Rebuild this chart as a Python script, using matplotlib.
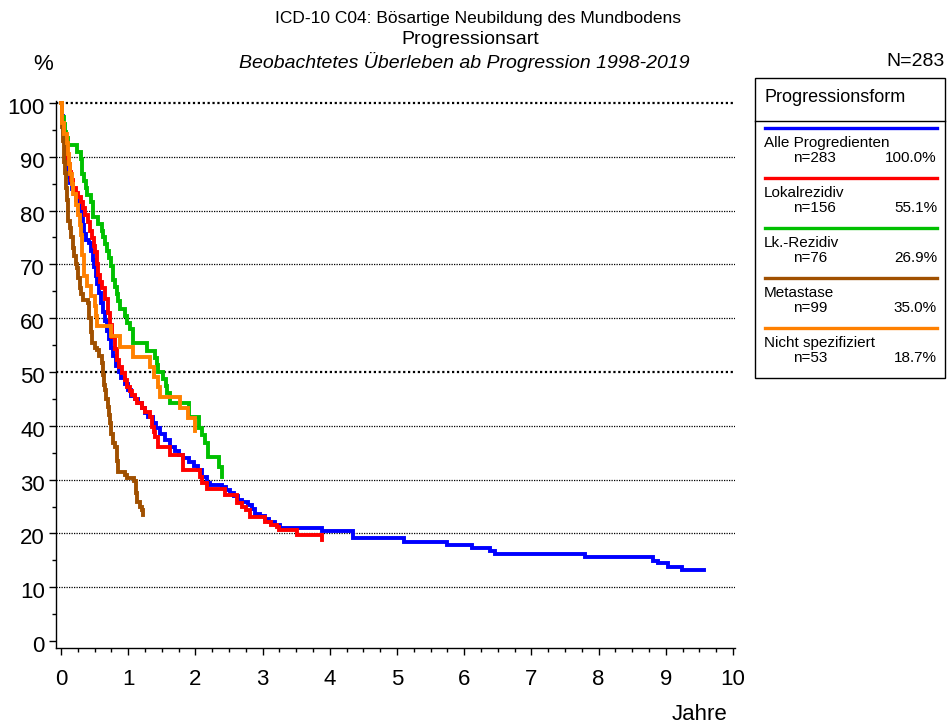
import numpy as np
import matplotlib
matplotlib.use('Agg')
import matplotlib.pyplot as plt
import matplotlib.transforms as mtransforms
from matplotlib.lines import Line2D
from matplotlib.patches import Rectangle

plt.rcParams['font.family'] = ['Liberation Sans', 'DejaVu Sans']

# Kaplan-Meier Stufen: Zeit in Jahren, Überleben in %
alle_t = [0, 0.01, 0.02, 0.03, 0.04, 0.05, 0.06, 0.08, 0.09, 0.10, 0.12, 0.14, 0.17, 0.20,
          0.23, 0.25, 0.28, 0.31, 0.33, 0.35, 0.37, 0.42, 0.45, 0.47, 0.49, 0.52, 0.54, 0.57,
          0.60, 0.63, 0.66, 0.69, 0.72, 0.75, 0.78, 0.82, 0.86, 0.90, 0.95, 1.00, 1.04, 1.10,
          1.15, 1.20, 1.25, 1.30, 1.37, 1.42, 1.48, 1.55, 1.62, 1.70, 1.76, 1.82, 1.90, 1.98,
          2.04, 2.10, 2.17, 2.22, 2.40, 2.45, 2.52, 2.58, 2.64, 2.70, 2.78, 2.84, 2.89, 2.96,
          3.04, 3.10, 3.18, 3.26, 3.88, 4.35, 5.10, 5.74, 6.12, 6.38, 6.46, 7.80, 8.81, 8.88,
          9.03, 9.24, 9.57]
alle_s = [100, 98.9, 97.5, 96.1, 94.7, 93.6, 92.6, 90.5, 89.0, 87.3, 86.2, 85.2, 84.1, 83.0,
          82.0, 81.3, 80.2, 78.8, 77.4, 75.6, 74.5, 73.9, 72.4, 70.8, 69.5, 67.8, 66.4, 64.7,
          62.9, 61.1, 59.4, 57.6, 56.1, 54.4, 53.0, 51.2, 50.0, 48.8, 47.7, 46.6, 45.6, 44.9,
          44.2, 43.4, 42.4, 41.7, 40.6, 39.6, 38.5, 37.4, 36.1, 35.4, 34.6, 34.0, 33.3, 32.5,
          31.8, 30.4, 29.4, 29.0, 28.6, 28.0, 27.5, 27.0, 26.3, 25.8, 25.3, 24.5, 23.6, 23.2,
          22.6, 22.1, 21.6, 21.0, 20.4, 19.1, 18.4, 17.8, 17.3, 16.7, 16.2, 15.6, 14.9, 14.5,
          13.8, 13.2, 13.2]

lokal_t = [0, 0.01, 0.02, 0.03, 0.05, 0.07, 0.09, 0.11, 0.13, 0.15, 0.18, 0.22, 0.26, 0.30,
           0.33, 0.36, 0.40, 0.43, 0.46, 0.49, 0.51, 0.53, 0.55, 0.58, 0.61, 0.65, 0.70, 0.73,
           0.76, 0.80, 0.83, 0.87, 0.91, 0.95, 0.98, 1.02, 1.06, 1.10, 1.13, 1.20, 1.25, 1.32,
           1.35, 1.38, 1.40, 1.44, 1.62, 1.82, 2.07, 2.10, 2.17, 2.44, 2.62, 2.70, 2.76, 2.81,
           3.04, 3.13, 3.22, 3.24, 3.51, 3.88]
lokal_s = [100, 98.5, 97.0, 95.4, 93.5, 91.8, 90.3, 88.7, 87.2, 85.7, 84.2, 83.3, 82.5, 81.6,
           80.4, 79.2, 77.9, 76.3, 74.9, 73.5, 72.3, 70.1, 68.0, 66.8, 65.6, 63.5, 61.0, 58.7,
           56.5, 54.3, 52.2, 50.9, 49.8, 48.5, 47.2, 46.4, 45.7, 44.9, 44.2, 43.4, 42.6, 41.6,
           39.8, 38.8, 37.9, 36.1, 34.5, 31.8, 30.5, 29.4, 28.3, 27.1, 25.6, 24.9, 24.3, 23.0,
           22.1, 21.6, 21.2, 20.6, 19.7, 18.8]

lk_t = [0, 0.01, 0.02, 0.04, 0.06, 0.08, 0.10, 0.24, 0.30, 0.32, 0.34, 0.37, 0.39, 0.45,
        0.47, 0.48, 0.55, 0.61, 0.63, 0.65, 0.68, 0.72, 0.75, 0.77, 0.80, 0.83, 0.85, 0.88,
        0.95, 0.98, 1.02, 1.07, 1.28, 1.40, 1.43, 1.45, 1.52, 1.56, 1.58, 1.62, 1.90, 2.05,
        2.10, 2.14, 2.19, 2.35, 2.40]
lk_s = [100, 98.7, 97.4, 96.1, 94.7, 93.4, 92.1, 90.8, 89.5, 86.8, 85.5, 84.2, 82.9, 81.6,
        80.3, 78.9, 77.6, 76.3, 75.0, 73.7, 72.4, 71.1, 69.7, 67.1, 65.8, 64.5, 63.2, 61.8,
        60.5, 59.2, 57.9, 55.3, 53.9, 52.6, 51.3, 50.0, 48.7, 47.4, 46.1, 44.2, 41.6, 39.5,
        38.2, 36.8, 34.2, 32.3, 30.5]

meta_t = [0, 0.01, 0.02, 0.03, 0.04, 0.05, 0.06, 0.07, 0.08, 0.09, 0.10, 0.11, 0.13, 0.15,
          0.18, 0.20, 0.22, 0.24, 0.26, 0.28, 0.30, 0.33, 0.40, 0.42, 0.44, 0.46, 0.50, 0.54,
          0.57, 0.61, 0.62, 0.64, 0.65, 0.67, 0.70, 0.71, 0.73, 0.75, 0.77, 0.80, 0.83, 0.84,
          0.85, 0.95, 0.98, 1.08, 1.12, 1.13, 1.18, 1.20, 1.22]
meta_s = [100, 97.5, 95.5, 93.0, 91.0, 89.0, 87.0, 85.5, 84.2, 82.0, 79.7, 78.0, 76.8, 75.0,
          73.0, 71.5, 70.0, 69.3, 67.5, 65.6, 64.5, 63.4, 62.8, 60.0, 57.5, 55.4, 54.5, 54.1,
          53.0, 51.7, 49.5, 47.5, 46.7, 45.0, 43.5, 42.0, 40.5, 38.5, 36.8, 36.0, 35.5, 33.5,
          31.4, 30.9, 30.3, 29.8, 27.5, 25.8, 25.0, 24.3, 23.4]

nicht_t = [0, 0.01, 0.02, 0.05, 0.09, 0.11, 0.12, 0.13, 0.16, 0.18, 0.22, 0.26, 0.28, 0.30,
           0.31, 0.32, 0.34, 0.35, 0.38, 0.45, 0.50, 0.52, 0.54, 0.75, 0.88, 1.07, 1.33, 1.38,
           1.45, 1.47, 1.77, 1.89, 1.99]
nicht_s = [100, 98.1, 96.2, 94.3, 92.5, 90.6, 88.7, 86.8, 84.9, 83.0, 81.1, 79.2, 77.4, 75.5,
           73.6, 71.7, 69.8, 67.9, 66.0, 64.2, 62.3, 60.4, 58.5, 56.6, 54.7, 52.8, 50.9, 49.1,
           47.2, 45.3, 43.4, 41.5, 39.0]

gruppen = ['Alle Progredienten', 'Lokalrezidiv', 'Lk.-Rezidiv', 'Metastase', 'Nicht spezifiziert']
anzahl = [283, 156, 76, 99, 53]
anteil = ['100.0%', '55.1%', '26.9%', '35.0%', '18.7%']
farben = ['#0000ff', '#ff0000', '#00c000', '#a05000', '#ff8000']
kurven = [(alle_t, alle_s), (lokal_t, lokal_s), (lk_t, lk_s), (meta_t, meta_s), (nicht_t, nicht_s)]

W, H = 948, 728


def fx(px):
    return px / W


def fy(py):
    return 1 - py / H


fig = plt.figure(figsize=(W / 100, H / 100), dpi=100)
ax = fig.add_axes([fx(56), fy(648), fx(735) - fx(56), fy(101) - fy(648)])

ax.set_xlim(-0.074, 10.03)
ax.set_ylim(-1.3, 100.37)

# Gitterlinien
for y in range(10, 101, 10):
    if y in (50, 100):
        ax.axhline(y, color='black', lw=1.6, linestyle=(0, (1, 1.2)), zorder=1)
    else:
        ax.axhline(y, color='black', lw=0.9, linestyle=(0, (1, 1)), zorder=1)

for (t, s), c in zip(kurven, farben):
    ax.plot(t, s, drawstyle='steps-post', color=c, lw=2.8, solid_joinstyle='miter', zorder=3)

ax.spines['top'].set_visible(False)
ax.spines['right'].set_visible(False)
ax.spines['left'].set_linewidth(1.0)
ax.spines['bottom'].set_linewidth(1.0)

ax.set_xticks(range(0, 11))
ax.set_xticks(np.arange(0, 10.01, 0.25), minor=True)
ax.set_yticks(range(0, 101, 10))
ax.set_yticks(range(5, 100, 10), minor=True)
ax.tick_params(axis='both', which='major', labelsize=16, direction='out', length=5, width=1)
ax.tick_params(axis='both', which='minor', direction='out', length=3, width=1)
ax.tick_params(axis='x', pad=10)
ax.tick_params(axis='y', pad=3)

# y-Beschriftung leicht nach unten versetzt
versatz = mtransforms.ScaledTranslation(0, -3 / 100, fig.dpi_scale_trans)
for lbl in ax.get_yticklabels():
    lbl.set_transform(lbl.get_transform() + versatz)

# Titel und Achsenbeschriftungen
fig.text(fx(478), fy(18), 'ICD-10 C04: Bösartige Neubildung des Mundbodens', ha='center', va='center', fontsize=12.5)
fig.text(fx(470), fy(40), 'Progressionsart', ha='center', va='center', fontsize=14)
fig.text(fx(464), fy(62), 'Beobachtetes Überleben ab Progression 1998-2019', ha='center', va='center',
         fontsize=14, style='italic')
fig.text(fx(43), fy(64), '%', ha='center', va='center', fontsize=16)
fig.text(fx(945), fy(61), 'N=283', ha='right', va='center', fontsize=14)
fig.text(fx(700), fy(715), 'Jahre', ha='center', va='center', fontsize=16)

# Legende als Kasten rechts
fig.add_artist(Rectangle((fx(755), fy(378)), fx(945) - fx(755), fy(78) - fy(378),
                         transform=fig.transFigure, fill=False, edgecolor='black', lw=1.0))
fig.add_artist(Line2D([fx(755), fx(945)], [fy(121), fy(121)], transform=fig.transFigure,
                      color='black', lw=1.0))
fig.text(fx(765), fy(98), 'Progressionsform', ha='left', va='center', fontsize=13)

for i, (name, n, p, c) in enumerate(zip(gruppen, anzahl, anteil, farben)):
    y0 = 128 + 50 * i
    fig.add_artist(Line2D([fx(765), fx(937)], [fy(y0), fy(y0)], transform=fig.transFigure,
                          color=c, lw=2.4))
    fig.text(fx(764), fy(y0 + 15), name, ha='left', va='center', fontsize=11)
    fig.text(fx(793), fy(y0 + 30), 'n=%d' % n, ha='left', va='center', fontsize=11)
    fig.text(fx(937), fy(y0 + 30), p, ha='right', va='center', fontsize=11)

fig.savefig('out.png', dpi=100)
